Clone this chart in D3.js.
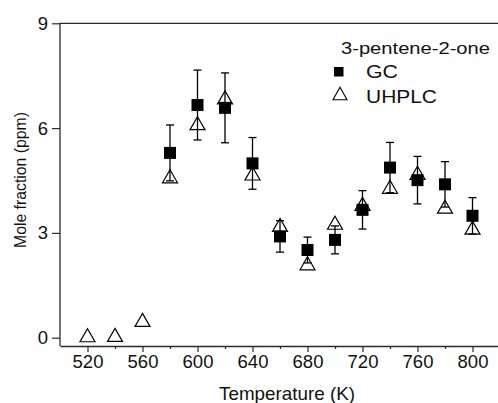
<!DOCTYPE html>
<html>
<head>
<meta charset="utf-8">
<script src="https://cdn.jsdelivr.net/npm/d3@7"></script>
<style>
  body { margin: 0; background: #fff; }
  svg { display: block; font-family: "Liberation Sans", Arial, sans-serif; }
</style>
</head>
<body>
<div id="chart"></div>
<script>
// temperatures and mole fractions (ppm)
const gcTemps = [580, 600, 620, 640, 660, 680, 700, 720, 740, 760, 780, 800]
const gcValues = [5.29, 6.66, 6.58, 4.99, 2.90, 2.51, 2.80, 3.66, 4.87, 4.51, 4.39, 3.49]
const gcErrors = [0.80, 1.00, 1.00, 0.74, 0.45, 0.37, 0.40, 0.55, 0.72, 0.68, 0.65, 0.52]

const uhplcTemps = [520, 540, 560, 580, 600, 620, 640, 660, 680, 700, 720, 740, 760, 780, 800]
const uhplcValues = [0.07, 0.08, 0.51, 4.62, 6.14, 6.88, 4.70, 3.23, 2.13, 3.29, 3.83, 4.32, 4.72, 3.75, 3.15]

const xTicks = [520, 560, 600, 640, 680, 720, 760, 800]
const xMinor = [540, 580, 620, 660, 700, 740, 780]
const yTicks = [0, 3, 6, 9]

const width = 498, height = 403
const plotLeft = 60, plotRight = 500, plotTop = 23.3, plotBottom = 346

const x = d3.scaleLinear().domain([500, 820]).range([plotLeft, plotRight])
const y = d3.scaleLinear().domain([0, 9]).range([337.7, plotTop])

const svg = d3.select("#chart").append("svg")
    .attr("width", width)
    .attr("height", height)

const axisColor = "#2b2b2b"

// frame
svg.append("path")
    .attr("d", `M${plotLeft},${plotBottom}V${plotTop}H${plotRight}`)
    .attr("fill", "none")
    .attr("stroke", axisColor)
    .attr("stroke-width", 1.3)

// bottom axis
const xAxis = svg.append("g")
    .attr("transform", `translate(0,${plotBottom})`)
    .call(d3.axisBottom(x).tickValues(xTicks).tickSize(6).tickPadding(3).tickSizeOuter(0))
xAxis.select(".domain").attr("stroke", axisColor).attr("stroke-width", 1.3)
xAxis.selectAll(".tick line").attr("stroke", axisColor).attr("stroke-width", 1.2)
xAxis.selectAll(".tick text").attr("font-size", 18.5).attr("fill", "#111")
    .attr("font-family", "Liberation Sans, Arial, sans-serif")

svg.append("g")
    .attr("transform", `translate(0,${plotBottom})`)
    .call(d3.axisBottom(x).tickValues(xMinor).tickSize(3).tickFormat(""))
    .call(g => g.select(".domain").remove())
    .selectAll(".tick line").attr("stroke", axisColor).attr("stroke-width", 1.2)

// left axis
const yAxis = svg.append("g")
    .attr("transform", `translate(${plotLeft},0)`)
    .call(d3.axisLeft(y).tickValues(yTicks).tickSize(8).tickPadding(4).tickSizeOuter(0))
yAxis.select(".domain").remove()
yAxis.selectAll(".tick line").attr("stroke", axisColor).attr("stroke-width", 1.2)
yAxis.selectAll(".tick text").attr("font-size", 18.5).attr("fill", "#111")
    .attr("font-family", "Liberation Sans, Arial, sans-serif")

// axis titles
svg.append("text")
    .attr("x", 287)
    .attr("y", 400)
    .attr("text-anchor", "middle")
    .attr("font-size", 18.5)
    .attr("textLength", 136)
    .attr("lengthAdjust", "spacingAndGlyphs")
    .attr("fill", "#111")
    .text("Temperature (K)")

svg.append("text")
    .attr("transform", "translate(26,180) rotate(-90)")
    .attr("text-anchor", "middle")
    .attr("font-size", 16.5)
    .attr("textLength", 136)
    .attr("lengthAdjust", "spacingAndGlyphs")
    .attr("fill", "#111")
    .text("Mole fraction (ppm)")

const triangle = (w, h) => `M0,${-h / 2}L${w / 2},${h / 2}L${-w / 2},${h / 2}Z`

// GC error bars
const gc = gcTemps.map((t, i) => ({t, v: gcValues[i], e: gcErrors[i]}))
const bars = svg.append("g").attr("stroke", "#000").attr("stroke-width", 1.3)
bars.selectAll("line.stem").data(gc).enter().append("line")
    .attr("x1", d => x(d.t)).attr("x2", d => x(d.t))
    .attr("y1", d => y(d.v - d.e)).attr("y2", d => y(d.v + d.e))
bars.selectAll("line.capTop").data(gc).enter().append("line")
    .attr("x1", d => x(d.t) - 4).attr("x2", d => x(d.t) + 4)
    .attr("y1", d => y(d.v + d.e)).attr("y2", d => y(d.v + d.e))
bars.selectAll("line.capBot").data(gc).enter().append("line")
    .attr("x1", d => x(d.t) - 4).attr("x2", d => x(d.t) + 4)
    .attr("y1", d => y(d.v - d.e)).attr("y2", d => y(d.v - d.e))

// GC squares
svg.append("g").selectAll("rect").data(gc).enter().append("rect")
    .attr("x", d => x(d.t) - 6)
    .attr("y", d => y(d.v) - 6)
    .attr("width", 12)
    .attr("height", 12)
    .attr("fill", "#000")

// UHPLC triangles
svg.append("g").selectAll("path").data(uhplcTemps.map((t, i) => ({t, v: uhplcValues[i]})))
    .enter().append("path")
    .attr("transform", d => `translate(${x(d.t)},${y(d.v)})`)
    .attr("d", triangle(15, 13))
    .attr("fill", "none")
    .attr("stroke", "#000")
    .attr("stroke-width", 1.2)

// legend
const legend = svg.append("g").attr("fill", "#111")
legend.append("text").attr("x", 341).attr("y", 53.5).attr("font-size", 17)
    .attr("textLength", 149).attr("lengthAdjust", "spacingAndGlyphs")
    .text("3-pentene-2-one")
legend.append("rect").attr("x", 334).attr("y", 67).attr("width", 9.5).attr("height", 9.5).attr("fill", "#000")
legend.append("text").attr("x", 366).attr("y", 78).attr("font-size", 18)
    .attr("textLength", 32).attr("lengthAdjust", "spacingAndGlyphs")
    .text("GC")
legend.append("path").attr("transform", "translate(340,93.5)").attr("d", triangle(14, 12.5))
    .attr("fill", "none").attr("stroke", "#000").attr("stroke-width", 1.1)
legend.append("text").attr("x", 366).attr("y", 103).attr("font-size", 18)
    .attr("textLength", 71).attr("lengthAdjust", "spacingAndGlyphs")
    .text("UHPLC")
</script>
</body>
</html>
